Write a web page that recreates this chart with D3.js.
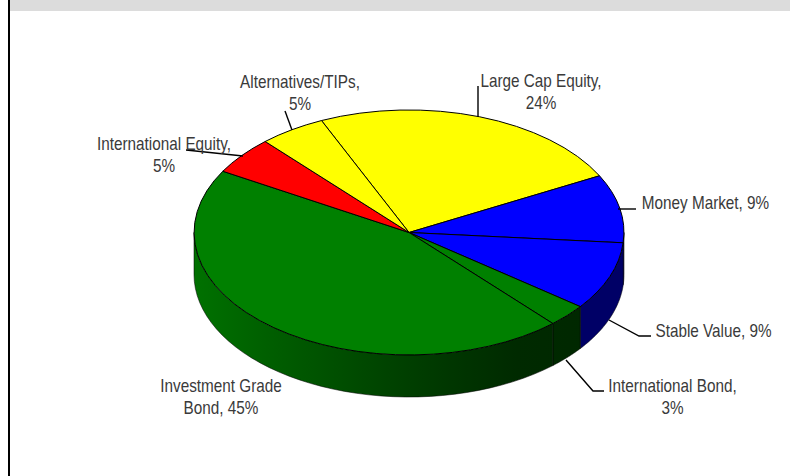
<!DOCTYPE html>
<html>
<head>
<meta charset="utf-8">
<script src="https://cdn.jsdelivr.net/npm/d3@7"></script>
<style>
  html, body { margin: 0; padding: 0; background: #fff; }
  svg { display: block; }
  text { font-family: "Liberation Sans", sans-serif; font-size: 18px; fill: #3a3a3a; }
</style>
</head>
<body>
<svg id="chart" width="790" height="476"></svg>
<script>
    // slices run clockwise from Large Cap Equity
    const categories = ["Large Cap Equity", "Money Market", "Stable Value", "International Bond", "Investment Grade Bond", "International Equity", "Alternatives/TIPs"];
    const values = [24, 9, 9, 3, 45, 5, 5];
    const colors = ["#ffff00", "#0000ff", "#0000ff", "#008000", "#008000", "#ff0000", "#ffff00"];

    const labelLines = [
        ["Large Cap Equity,", "24%"], ["Money Market, 9%"], ["Stable Value, 9%"], ["International Bond,", "3%"],
        ["Investment Grade", "Bond, 45%"], ["International Equity,", "5%"], ["Alternatives/TIPs,", "5%"]
    ];
    const labelAt = [[541, 87], [705.5, 209], [713.5, 337], [672.5, 391.5], [221, 392], [164, 150], [300, 88]];
    const leaders = [
        [[478, 86], [478, 117]],
        [[636, 209], [618, 209]],
        [[651, 336], [639, 336], [609, 320]],
        [[604, 391], [593, 391], [566, 360]],
        [],
        [[186, 150], [243, 156]],
        [[285, 111], [292, 130]]
    ];

    const cx = 409, cy = 232.5, rx = 215, ry = 122.5, depth = 42;
    const startDeg = -24;
    const narrow = 0.85;

    const svg = d3.select("#chart");
    const defs = svg.append("defs");

    // Frame
    svg.append("rect").attr("x", 10).attr("y", 0).attr("width", 780).attr("height", 11).attr("fill", "#dcdcdc");
    svg.append("rect").attr("x", 8).attr("y", 0).attr("width", 2).attr("height", 476).attr("fill", "#000");

    const pie = d3.pie().sort(null)
        .startAngle(startDeg * Math.PI / 180)
        .endAngle((startDeg + 360) * Math.PI / 180);
    const slices = pie(values);

    const px = a => cx + rx * Math.sin(a);
    const py = a => cy - ry * Math.cos(a);

    // Side shading: darkens left to right across the pie
    const shade = d3.scaleLinear().domain([0, 0.45, 0.75, 1]).range([0.88, 0.52, 0.33, 0.3]);
    function sideGradient(color, i) {
        const g = defs.append("linearGradient").attr("id", "side" + i)
            .attr("gradientUnits", "userSpaceOnUse")
            .attr("x1", cx - rx).attr("x2", cx + rx).attr("y1", 0).attr("y2", 0);
        const c = d3.rgb(color);
        [0, 0.2, 0.45, 0.6, 0.75, 1].forEach(t => {
            const k = color === "#0000ff" ? 0.4 : shade(t);
            g.append("stop").attr("offset", t).attr("stop-color", d3.rgb(c.r * k, c.g * k, c.b * k).formatHex());
        });
        return "url(#side" + i + ")";
    }

    // Side walls, only the part facing the viewer (90deg to 270deg clockwise from top)
    const g = svg.append("g");
    const sideLine = d3.line();
    slices.forEach((d, i) => {
        const norm = Math.PI * 2;
        [0, norm].forEach(off => {
            const a0 = Math.max(d.startAngle + off, Math.PI / 2);
            const a1 = Math.min(d.endAngle + off, Math.PI * 1.5);
            if (a1 <= a0) return;
            const steps = d3.range(0, 41).map(t => a0 + (a1 - a0) * t / 40);
            const top = steps.map(a => [px(a), py(a)]);
            const bottom = steps.slice().reverse().map(a => [px(a), py(a) + depth]);
            g.append("path")
                .attr("d", sideLine(top.concat(bottom)) + "Z")
                .attr("fill", sideGradient(colors[i], i + "_" + off))
                .attr("stroke", "#000")
                .attr("stroke-width", 0.7)
                .attr("stroke-opacity", 0.75);
        });
    });

    // Top face
    const arc = d3.arc().innerRadius(0).outerRadius(1);
    g.append("g")
        .attr("transform", `translate(${cx},${cy}) scale(${rx},${ry})`)
        .selectAll("path")
        .data(slices)
        .enter().append("path")
        .attr("d", arc)
        .attr("fill", (d, i) => colors[i])
        .attr("stroke", "#000")
        .attr("stroke-width", 1)
        .attr("stroke-linejoin", "round")
        .attr("vector-effect", "non-scaling-stroke");

    // Leader lines
    svg.append("g").selectAll("path")
        .data(leaders.filter(l => l.length))
        .enter().append("path")
        .attr("d", d3.line())
        .attr("fill", "none")
        .attr("stroke", "#000")
        .attr("stroke-width", 1.4);

    // Labels (no narrow face installed, so squeeze the regular one)
    const labels = svg.append("g").selectAll("text")
        .data(labelLines)
        .enter().append("text")
        .attr("text-anchor", "middle")
        .attr("transform", (d, i) => `translate(${labelAt[i][0]},${labelAt[i][1]}) scale(${narrow},1)`);
    labels.selectAll("tspan")
        .data(d => d)
        .enter().append("tspan")
        .attr("x", 0)
        .attr("y", (d, i) => i * 22.5)
        .text(d => d);
</script>
</body>
</html>
